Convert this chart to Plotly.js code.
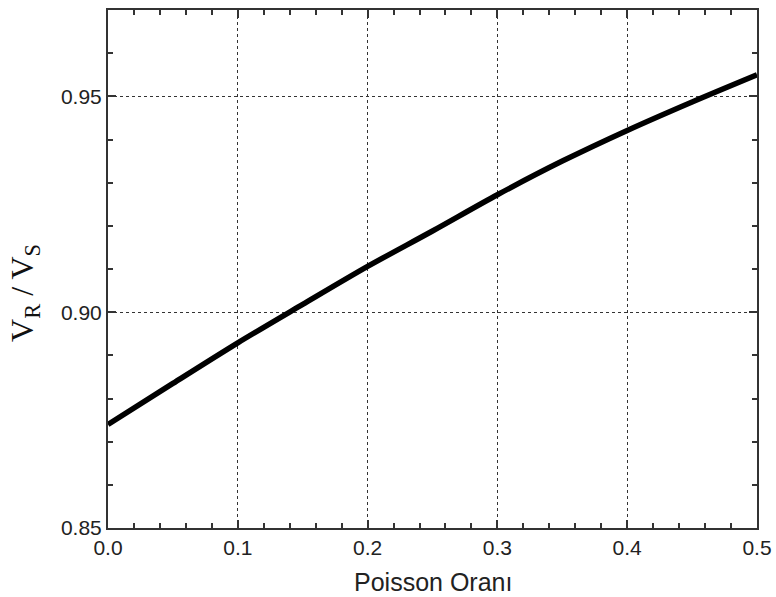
<!DOCTYPE html>
<html>
<head>
<meta charset="utf-8">
<script src="https://cdn.plot.ly/plotly-3.0.1.min.js"></script>
<style>html,body{margin:0;padding:0;background:#fff;}#chart{width:776px;height:597px;}</style>
</head>
<body>
<div id="chart"></div>
<script>
const poissonRatio = [0.0, 0.05, 0.1, 0.15, 0.2, 0.25, 0.3, 0.35, 0.4, 0.45, 0.5];
const velocityRatio = [0.8740, 0.8835, 0.8929, 0.9018, 0.9106, 0.9188, 0.9272, 0.9350, 0.9421, 0.9487, 0.9550];
const xTickVals = [0.0, 0.1, 0.2, 0.3, 0.4, 0.5];
const xTickText = ["0.0", "0.1", "0.2", "0.3", "0.4", "0.5"];
const yTickVals = [0.85, 0.90, 0.95];
const yTickText = ["0.85", "0.90", "0.95"];
const xTitle = "Poisson Oranı";
const yTitle = "V<sub>R</sub> / V<sub>S</sub>";

const trace = {
  x: poissonRatio, y: velocityRatio, type: 'scatter', mode: 'lines',
  line: {color: '#000', width: 5.5, shape: 'spline', smoothing: 0.8},
  hoverinfo: 'none', showlegend: false
};

const axisCommon = {
  showline: true, linecolor: '#333', linewidth: 2, mirror: 'ticks',
  ticks: 'inside', ticklen: 8, tickwidth: 2, tickcolor: '#333',
  showgrid: true, gridcolor: '#333', gridwidth: 1, griddash: 'dot',
  zeroline: false, fixedrange: true,
  tickfont: {family: 'Liberation Sans, Arial, sans-serif', size: 21, color: '#222'}
};

const layout = {
  width: 776, height: 597,
  margin: {l: 108, r: 19, t: 10, b: 69},
  paper_bgcolor: '#fff', plot_bgcolor: '#fff',
  xaxis: Object.assign({}, axisCommon, {
    range: [0, 0.5], tickmode: 'array', tickvals: xTickVals, ticktext: xTickText,
    minor: {dtick: 0.02, ticks: 'inside', ticklen: 5, tickwidth: 2, tickcolor: '#333', showgrid: false}
  }),
  yaxis: Object.assign({}, axisCommon, {
    range: [0.85, 0.97], tickmode: 'array', tickvals: yTickVals, ticktext: yTickText,
    minor: {dtick: 0.01, ticks: 'inside', ticklen: 5, tickwidth: 2, tickcolor: '#333', showgrid: false}
  }),
  annotations: [
    {text: xTitle, xref: 'paper', yref: 'paper', x: 0.5, y: -0.104, xanchor: 'center', yanchor: 'middle',
     showarrow: false, font: {family: 'Liberation Sans, Arial, sans-serif', size: 25, color: '#222'}},
    {text: yTitle, xref: 'paper', yref: 'paper', x: -0.128, y: 0.4537, xanchor: 'center', yanchor: 'middle',
     textangle: -90, showarrow: false, font: {family: 'Liberation Serif, Times New Roman, serif', size: 32, color: '#111'}}
  ]
};

Plotly.newPlot('chart', [trace], layout, {displayModeBar: false, staticPlot: true});
</script>
</body>
</html>
